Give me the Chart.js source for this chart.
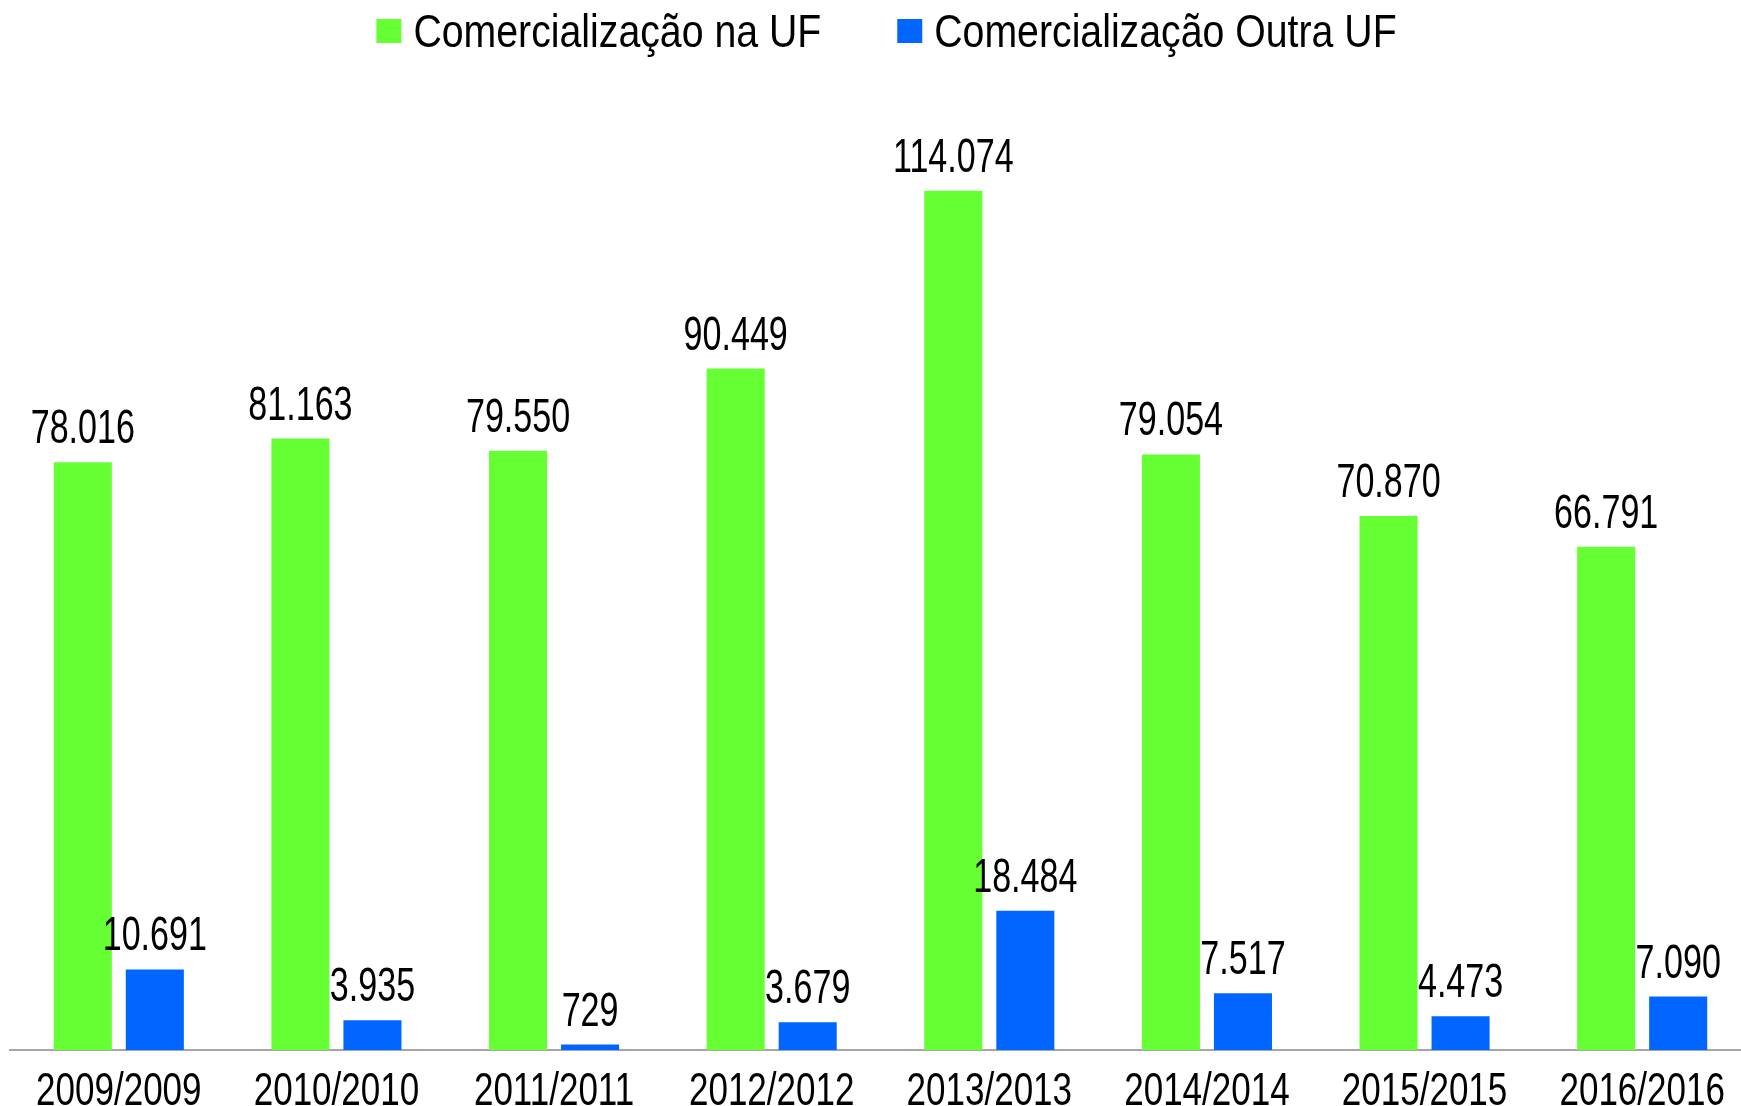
<!DOCTYPE html>
<html>
<head>
<meta charset="utf-8">
<script src="https://cdn.jsdelivr.net/npm/chart.js@4"></script>
<style>
    html, body { margin: 0; padding: 0; background: #fff; overflow: hidden; }
    /* a área do gráfico passa um pouco da borda direita, como no original */
    #wrap { width: 1751px; height: 1106px; }
</style>
</head>
<body>
<div id="wrap"><canvas id="chart"></canvas></div>
<script>
    const safras = ['2009/2009', '2010/2010', '2011/2011', '2012/2012', '2013/2013', '2014/2014', '2015/2015', '2016/2016'];
    const naUF = [78016, 81163, 79550, 90449, 114074, 79054, 70870, 66791];
    const outraUF = [10691, 3935, 729, 3679, 18484, 7517, 4473, 7090];

    // não há Arial Narrow: usa Liberation Sans comprimida na horizontal
    const FONT = "'Liberation Sans', Arial, sans-serif";

    const fmt = (v) => String(v).replace(/\B(?=(\d{3})+(?!\d))/g, '.');

    const narrowText = (ctx, text, x, y, size, sx, align) => {
        ctx.save();
        ctx.font = size + 'px ' + FONT;
        ctx.textAlign = align || 'center';
        ctx.textBaseline = 'alphabetic';
        ctx.translate(x, y);
        ctx.scale(sx, 1);
        ctx.fillText(text, 0, 0);
        ctx.restore();
    };

    const narrowWidth = (ctx, text, size, sx) => {
        ctx.save();
        ctx.font = size + 'px ' + FONT;
        const w = ctx.measureText(text).width * sx;
        ctx.restore();
        return w;
    };

    const textPlugin = {
        id: 'narrowText',
        afterDraw(chart) {
            const ctx = chart.ctx;

            // valores em cima das barras
            chart.data.datasets.forEach((ds, i) => {
                chart.getDatasetMeta(i).data.forEach((bar, j) => {
                    ctx.fillStyle = '#000';
                    narrowText(ctx, fmt(ds.data[j]), bar.x, bar.y - 19, 48, 0.71);
                });
            });

            // rótulos do eixo x
            const xs = chart.scales.x;
            chart.data.labels.forEach((lab, i) => {
                ctx.fillStyle = '#000';
                narrowText(ctx, lab, xs.getPixelForTick(i), chart.chartArea.bottom + 55, 47, 0.745);
            });

            // legenda
            const size = 47, sx = 0.835, box = 25, gap = 12, spacing = 76;
            const items = chart.data.datasets.map(ds => ({
                text: ds.label,
                color: ds.backgroundColor,
                w: narrowWidth(ctx, ds.label, size, sx)
            }));
            const total = items.reduce((s, it) => s + box + gap + it.w, 0) + spacing * (items.length - 1);
            let x = chart.width / 2 + 11 - total / 2;
            items.forEach(it => {
                ctx.fillStyle = it.color;
                ctx.fillRect(x, 19, box, 24);
                ctx.fillStyle = '#000';
                narrowText(ctx, it.text, x + box + gap, 47, size, sx, 'left');
                x += box + gap + it.w + spacing;
            });
        }
    };

    new Chart(document.getElementById('chart'), {
        type: 'bar',
        data: {
            labels: safras,
            datasets: [{
                label: 'Comercialização na UF',
                data: naUF,
                backgroundColor: '#66FF33',
                categoryPercentage: 0.662,
                barPercentage: 0.806
            }, {
                label: 'Comercialização Outra UF',
                data: outraUF,
                backgroundColor: '#0066FF',
                categoryPercentage: 0.662,
                barPercentage: 0.806
            }]
        },
        options: {
            responsive: true,
            maintainAspectRatio: false,
            animation: false,
            layout: {padding: {left: 10, right: 0, top: 146, bottom: 56}},
            scales: {
                x: {
                    grid: {display: false, drawTicks: false},
                    border: {display: true, color: '#a6a6a6', width: 2},
                    ticks: {display: false}
                },
                y: {
                    display: false,
                    min: 0,
                    max: 120000
                }
            },
            plugins: {
                legend: {display: false},
                tooltip: {enabled: false}
            }
        },
        plugins: [textPlugin]
    });
</script>
</body>
</html>
